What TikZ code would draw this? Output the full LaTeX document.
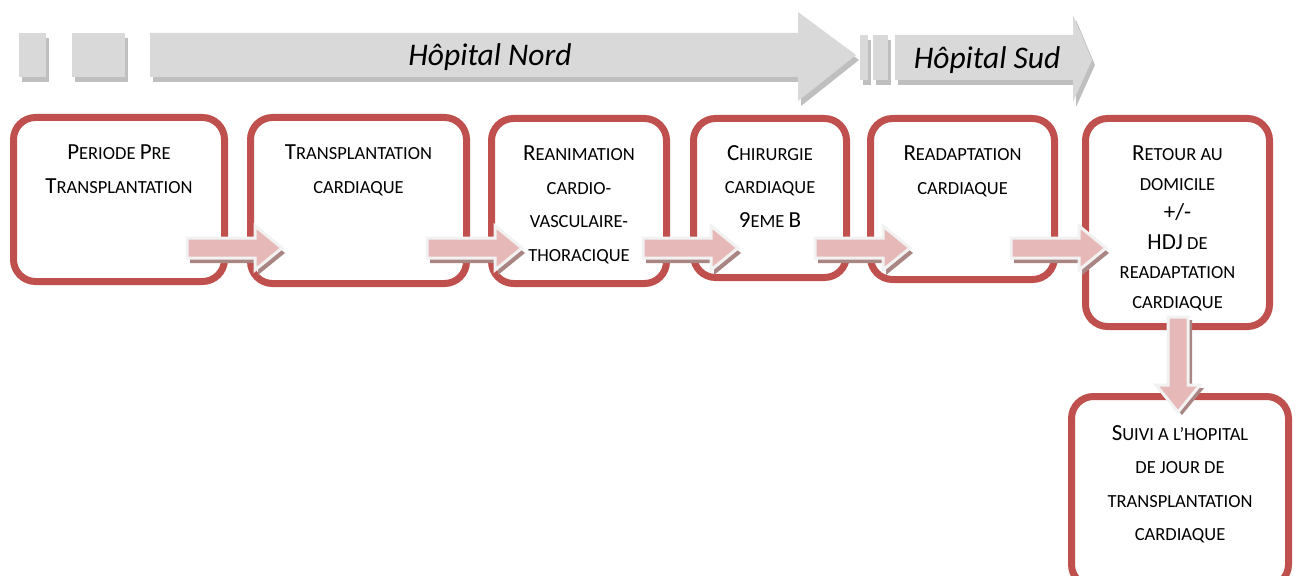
\documentclass[tikz,border=0pt]{standalone}
\usepackage{fontspec}
\setmainfont{Carlito}
\usetikzlibrary{positioning}

\definecolor{boxred}{HTML}{C0504D}
\definecolor{flowpink}{HTML}{E6B9B8}
\definecolor{flowedge}{HTML}{F2F2F2}
\definecolor{flowshade}{HTML}{A98584}
\definecolor{bandgray}{HTML}{D9D9D9}
\definecolor{bandshade}{HTML}{BFBFBF}

\newcommand{\initcap}[1]{{\fontsize{23}{33.5}\selectfont #1}}
\newcommand{\bandshapes}{%
  \fill (19,33) rectangle (46,77);
  \fill (72,33) rectangle (125,77);
  \fill (150,33) -- (798,33) -- (798,12) -- (856,55) -- (798,101) -- (798,77) -- (150,77) -- cycle;
  \fill (860,35) rectangle (868,80);
  \fill (873,35) rectangle (888,80);
  \fill (895,35) -- (1073,35) -- (1073,15) -- (1092,60) -- (1073,102) -- (1073,80) -- (895,80) -- cycle;
}

\tikzset{
  pics/flow/.style={code={
    \fill[flowshade, shift={#1}] (0,-10) -- (68,-10) -- (68,-22) -- (95,0) -- (68,22) -- (68,10) -- (0,10) -- cycle;
    \filldraw[fill=flowpink, draw=flowedge, line width=3, line join=miter] (0,-10) -- (68,-10) -- (68,-22) -- (95,0) -- (68,22) -- (68,10) -- (0,10) -- cycle;
  }}
}

\begin{document}
\begin{tikzpicture}[x=1pt,y=-1pt,
  stage/.style={draw=boxred, line width=7, rounded corners=22, fill=white},
  stagetext/.style={align=center, inner sep=0, font=\fontsize{18.5}{33.5}\selectfont},
  bandtext/.style={font=\fontsize{31.5}{36}\selectfont\itshape}]
\useasboundingbox (0,0) rectangle (1297,575);
\clip (0,0) rectangle (1297,575);

% band of the two hospitals
\begin{scope}[shift={(3,5)}, bandshade]
  \bandshapes
\end{scope}
\begin{scope}[bandgray]
  \bandshapes
\end{scope}
\node[bandtext] (nord) at (490,57) {Hôpital Nord};
\node[bandtext] (sud) at (987,60) {Hôpital Sud};

% stages
\node[stage, minimum width=211, minimum height=164] (b1) at (119,199.5) {};
\node[stage, minimum width=216, minimum height=166] (b2) at (358.5,200.5) {};
\node[stage, minimum width=175, minimum height=165] (b3) at (579,201) {};
\node[stage, minimum width=153, minimum height=159] (b4) at (770,198) {};
\node[stage, minimum width=184, minimum height=161] (b5) at (962.5,199) {};
\node[stage, minimum width=184, minimum height=208] (b6) at (1177.5,222.5) {};
\node[stage, minimum width=217, minimum height=190] (b7) at (1180,491.5) {};

\node[stagetext, below=31pt of b1.north] (t1) {\initcap{P}ERIODE \initcap{P}RE\\\initcap{T}RANSPLANTATION};
\node[stagetext, below=31pt of b2.north] (t2) {\initcap{T}RANSPLANTATION\\CARDIAQUE};
\node[stagetext, below=31pt of b3.north] (t3) {\initcap{R}EANIMATION\\CARDIO-\\VASCULAIRE-\\THORACIQUE};
\node[stagetext, below=30pt of b4.north] (t4) {\initcap{C}HIRURGIE\\CARDIAQUE\\\initcap{9}EME \initcap{B}};
\node[stagetext, below=31pt of b5.north] (t5) {\initcap{R}EADAPTATION\\CARDIAQUE};
\node[stagetext, below=31pt of b6.north, font=\fontsize{18.5}{29.5}\selectfont] (t6) {\initcap{R}ETOUR AU\\DOMICILE\\\initcap{+/-}\\\initcap{HDJ} DE\\READAPTATION\\CARDIAQUE};
\node[stagetext, below=32pt of b7.north] (t7) {\initcap{S}UIVI A L’HOPITAL\\DE JOUR DE\\TRANSPLANTATION\\CARDIAQUE};

% flow arrows
\pic at (187,248) {flow={(3,5)}};
\pic at (427,248) {flow={(3,5)}};
\pic at (643,248) {flow={(3,5)}};
\pic at (815,248) {flow={(3,5)}};
\pic at (1011,248) {flow={(3,5)}};
\pic[rotate=-90] at (1178,317) {flow={(3,-4)}};
\end{tikzpicture}
\end{document}
